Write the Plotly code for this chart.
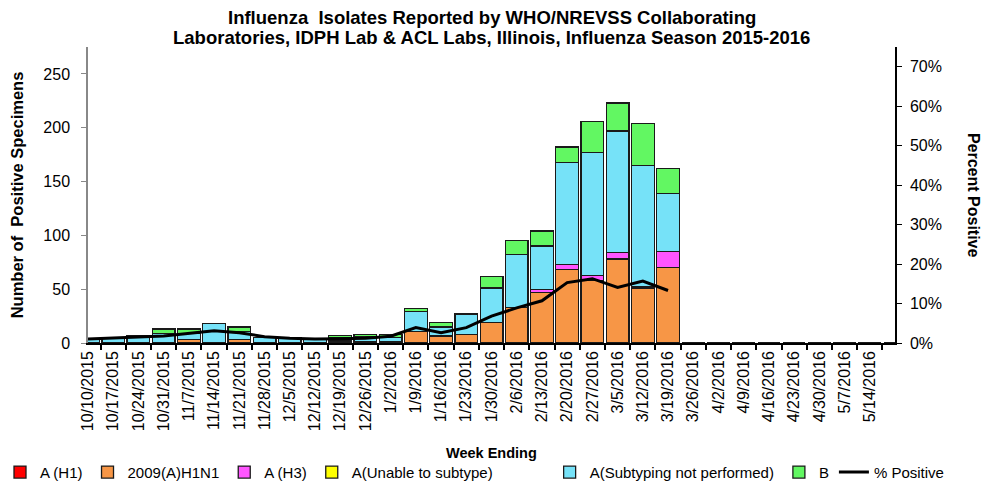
import plotly.graph_objects as go

weeks = ["10/10/2015", "10/17/2015", "10/24/2015", "10/31/2015", "11/7/2015", "11/14/2015",
         "11/21/2015", "11/28/2015", "12/5/2015", "12/12/2015", "12/19/2015", "12/26/2015",
         "1/2/2016", "1/9/2016", "1/16/2016", "1/23/2016", "1/30/2016", "2/6/2016",
         "2/13/2016", "2/20/2016", "2/27/2016", "3/5/2016", "3/12/2016", "3/19/2016",
         "3/26/2016", "4/2/2016", "4/9/2016", "4/16/2016", "4/23/2016", "4/30/2016",
         "5/7/2016", "5/14/2016", "5/21/2016"]
tick_labels = weeks[:32]

a_h1 = [0] * 33
h1n1_2009 = [0, 0, 0, 0, 3, 0, 3, 0, 0, 0, 2, 1, 1, 11, 6, 8, 19, 33, 47, 68, 58, 78, 51, 70,
             0, 0, 0, 0, 0, 0, 0, 0, 0]
a_h3 = [0, 0, 0, 0, 0, 0, 0, 0, 0, 0, 0, 0, 0, 0, 1, 0, 0, 0, 3, 5, 5, 6, 1, 15,
        0, 0, 0, 0, 0, 0, 0, 0, 0]
a_unable = [0] * 33
a_not_subtyped = [4, 5, 7, 9, 6, 18, 8, 5, 5, 4, 3, 5, 4, 18, 8, 19, 32, 49, 40, 95, 114, 113, 113, 54,
                  0, 0, 0, 0, 0, 0, 0, 0, 0]
b_type = [0, 0, 0, 4, 4, 0, 4, 0, 0, 0, 2, 2, 3, 3, 4, 0, 11, 13, 14, 14, 29, 26, 39, 23,
          0, 0, 0, 0, 0, 0, 0, 0, 0]
pct_positive = [1.0, 1.2, 1.5, 1.8, 2.5, 3.1, 2.6, 1.6, 1.2, 1.0, 1.1, 1.2, 1.7, 3.9, 2.6, 3.9,
                6.8, 8.9, 10.7, 15.3, 16.3, 14.1, 15.7, 13.3,
                None, None, None, None, None, None, None, None, None]

title_line1 = "Influenza  Isolates Reported by WHO/NREVSS Collaborating"
title_line2 = "Laboratories, IDPH Lab & ACL Labs, Illinois, Influenza Season 2015-2016"

x = list(range(len(weeks)))
font_family = "Liberation Sans, Arial, sans-serif"
outline = dict(color="#1a1a1a", width=1.3)

fig = go.Figure()
series = [
    ("A (H1)", a_h1, "#FF0000", "legend"),
    ("2009(A)H1N1", h1n1_2009, "#F79646", "legend"),
    ("A (H3)", a_h3, "#FF55FF", "legend"),
    ("A(Unable to subtype)", a_unable, "#FFFF00", "legend"),
    ("A(Subtyping not performed)", a_not_subtyped, "#76E2F8", "legend2"),
    ("B", b_type, "#62F762", "legend2"),
]
for name, vals, col, lg in series:
    fig.add_trace(go.Bar(x=x, y=vals, name=name, marker=dict(color=col, line=outline), legend=lg,
                         customdata=weeks, hovertemplate="%{customdata}: %{y}<extra>" + name + "</extra>"))

fig.add_trace(go.Scatter(x=x, y=[None if v is None else v / 100 for v in pct_positive],
                         name="% Positive", mode="lines", yaxis="y2", legend="legend2",
                         line=dict(color="black", width=3), connectgaps=False))

legend_common = dict(orientation="h", xref="container", yref="container",
                     xanchor="left", y=0.02, yanchor="middle",
                     font=dict(size=15), traceorder="normal", itemwidth=30,
                     tracegroupgap=0, bgcolor="rgba(0,0,0,0)")

fig.update_layout(
    barmode="stack",
    bargap=0.1,
    width=985, height=482,
    margin=dict(l=88, r=90, t=47, b=139),
    paper_bgcolor="white", plot_bgcolor="white",
    font=dict(family=font_family, color="black", size=14),
    xaxis=dict(
        range=[0, 32], automargin=False,
        tickmode="array", tickvals=list(range(len(tick_labels))), ticktext=tick_labels,
        tickangle=-90, tickfont=dict(size=16),
        ticks="", showgrid=False, zeroline=False,
        showline=True, linecolor="black", linewidth=1.5,
        minor=dict(tickmode="array", tickvals=[i + 0.5 for i in range(32)],
                   ticks="outside", ticklen=5, tickcolor="black", tickwidth=1.5),
    ),
    yaxis=dict(
        range=[0, 275], tickvals=[0, 50, 100, 150, 200, 250], automargin=False,
        showgrid=False, zeroline=False,
        showline=True, linecolor="#888888", linewidth=1.5,
        ticks="outside", ticklen=5, tickcolor="#888888",
        tickfont=dict(size=16), ticklabelstandoff=8,
        title=dict(text="<b>Number of  Positive Specimens</b>", font=dict(size=16.5), standoff=16),
    ),
    yaxis2=dict(
        overlaying="y", side="right", automargin=False,
        range=[0, 0.75], tickvals=[0, 0.1, 0.2, 0.3, 0.4, 0.5, 0.6, 0.7],
        tickformat=".0%", showgrid=False, zeroline=False,
        showline=True, linecolor="black", linewidth=1.5,
        ticks="outside", ticklen=5, tickcolor="black",
        tickfont=dict(size=16), ticklabelstandoff=5,
    ),
    legend=dict(legend_common, x=0.0),
    legend2=dict(legend_common, x=0.558),
    showlegend=True,
    annotations=[
        dict(text="<b>Week Ending</b>", xref="paper", yref="paper",
             x=0.5, y=-0.37, xanchor="center", yanchor="middle", showarrow=False,
             font=dict(size=14.5, family=font_family, color="black")),
        dict(text="<b>Percent Positive</b>", textangle=90, xref="paper", yref="paper",
             x=1.098, y=0.5, xanchor="center", yanchor="middle", showarrow=False,
             font=dict(size=16, family=font_family, color="black")),
        dict(text="<b>" + title_line1 + "</b>", xref="paper", yref="paper",
             x=0.5, y=1.101, xanchor="center", yanchor="middle", showarrow=False,
             font=dict(size=18.5, family=font_family, color="black")),
        dict(text="<b>" + title_line2 + "</b>", xref="paper", yref="paper",
             x=0.5, y=1.033, xanchor="center", yanchor="middle", showarrow=False,
             font=dict(size=18.5, family=font_family, color="black")),
    ],
)

fig.write_html("out.html", config={"displayModeBar": False},
               post_script="document.body.style.margin='0';")
